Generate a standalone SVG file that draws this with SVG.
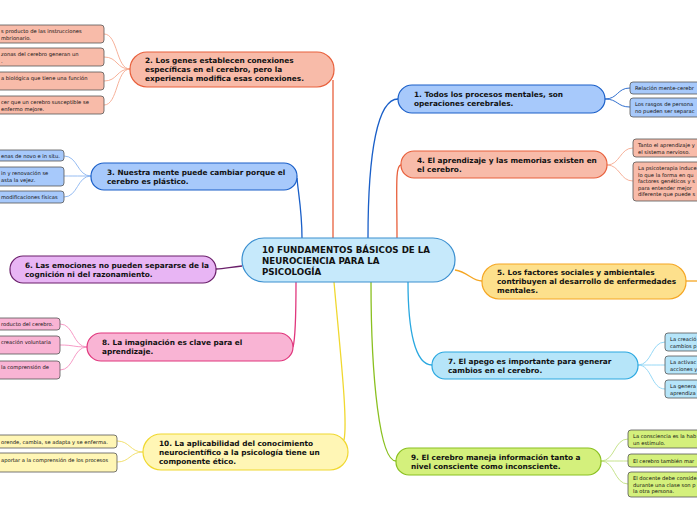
<svg xmlns="http://www.w3.org/2000/svg" width="697" height="520" viewBox="0 0 697 520">
<style>
text{font-family:"DejaVu Sans","Liberation Sans",sans-serif;fill:#111}
.m{font-size:7.35px;font-weight:bold}
.c{font-size:8.7px;font-weight:bold}
.l{font-size:5.2px}
.lf{stroke:#555;stroke-width:0.8}
.cn{fill:none;stroke-width:1.3}
.lc{fill:none;stroke-width:0.9}
.salmon{fill:#f8bba9}
.blue{fill:#a7c9fb}
.pink{fill:#f9b4d4}
.yel{fill:#fff6b5}
.cyan{fill:#b6e5f9}
.lime{fill:#d4f07c}
</style>
<rect width="697" height="520" fill="#fff"/>
<g id="connectors">
<path class="cn" stroke="#1a5fc8" d="M368,238 C368,150 378,99 398,99"/>
<path class="cn" stroke="#e8603c" d="M397,238 C397,190 395,165 401,165"/>
<path class="cn" stroke="#e8603c" d="M333,238 L333,80"/>
<path class="cn" stroke="#1a5fc8" d="M302,238 C302,210 298,192 297,178"/>
<path class="cn" stroke="#6a1f6a" d="M242,266 C230,267 225,269 216,269"/>
<path class="cn" stroke="#e0377d" d="M296,282 C296,320 295,340 293,347"/>
<path class="cn" stroke="#f0d830" d="M334,282 C340,350 348,420 344,440"/>
<path class="cn" stroke="#8ac020" d="M371,282 C371,380 380,461 396,461"/>
<path class="cn" stroke="#2aa8e0" d="M408,282 C408,330 415,365 432,365"/>
<path class="cn" stroke="#f5a623" d="M455,270 C468,272 472,281 482,281"/>
<path class="cn" stroke="#f5a623" d="M686,281 L697,281"/>
<g stroke="#f5a88e">
<path class="lc" d="M130,69 C116,69 118,34 104,34"/>
<path class="lc" d="M130,69 C116,69 118,57 104,57"/>
<path class="lc" d="M130,69 C116,69 118,81 104,81"/>
<path class="lc" d="M130,69 C116,69 118,105 104,105"/>
</g>
<g stroke="#8ab4f0">
<path class="lc" d="M91,176 C77,176 78,156 64,156"/>
<path class="lc" d="M91,176 C77,176 78,176 64,176"/>
<path class="lc" d="M91,176 C77,176 78,197 64,197"/>
</g>
<g stroke="#f590c0">
<path class="lc" d="M87,347 C73,347 74,324 60,324"/>
<path class="lc" d="M87,347 C73,347 74,345 60,345"/>
<path class="lc" d="M87,347 C73,347 74,370 60,370"/>
</g>
<g stroke="#f0dc60">
<path class="lc" d="M143,452 C130,452 130,441 117,441"/>
<path class="lc" d="M143,452 C130,452 130,462 117,462"/>
</g>
<g stroke="#1a5fc8">
<path class="lc" d="M605,99 C618,99 617,88 630,88"/>
<path class="lc" d="M605,99 C618,99 617,107 630,107"/>
</g>
<g stroke="#f5a88e">
<path class="lc" d="M607,165 C620,165 620,148 633,148"/>
<path class="lc" d="M607,165 C620,165 620,181 633,181"/>
</g>
<g stroke="#8ad4f5">
<path class="lc" d="M638,365 C652,365 651,342 665,342"/>
<path class="lc" d="M638,365 C652,365 651,365 665,365"/>
<path class="lc" d="M638,365 C652,365 651,389 665,389"/>
</g>
<g stroke="#c0e080">
<path class="lc" d="M601,461 C615,461 614,439 628,439"/>
<path class="lc" d="M601,461 C615,461 614,461 628,461"/>
<path class="lc" d="M601,461 C615,461 614,484 628,484"/>
</g>
</g>
<g id="center">
<rect x="242" y="238" width="213" height="44" rx="22" fill="#c6e9fb" stroke="#3a8fd0" stroke-width="1.2"/>
<text class="c" x="262" y="253">10 FUNDAMENTOS BÁSICOS DE LA</text>
<text class="c" x="262" y="264">NEUROCIENCIA PARA LA</text>
<text class="c" x="262" y="275">PSICOLOGÍA</text>
</g>
<g id="n2">
<rect x="130" y="52" width="204" height="35" rx="17" class="salmon" stroke="#e8603c" stroke-width="1.2"/>
<text class="m" x="145" y="63">2. Los genes establecen conexiones</text>
<text class="m" x="145" y="72">específicas en el cerebro, pero la</text>
<text class="m" x="145" y="81">experiencia modifica esas conexiones.</text>
</g>
<g id="n2a"><rect x="-5" y="25" width="109" height="18" rx="3" class="salmon lf"/><text class="l" x="1" y="33">s producto de las instrucciones</text><text class="l" x="1" y="39.5">mbrionario.</text></g>
<g id="n2b"><rect x="-5" y="48" width="109" height="18" rx="3" class="salmon lf"/><text class="l" x="1" y="56">zonas del cerebro generan un</text><text class="l" x="1" y="62.5">.</text></g>
<g id="n2c"><rect x="-5" y="72" width="109" height="18" rx="3" class="salmon lf"/><text class="l" x="1" y="80">a biológica que tiene una función</text></g>
<g id="n2d"><rect x="-5" y="96" width="109" height="18" rx="3" class="salmon lf"/><text class="l" x="1" y="104">cer que un cerebro susceptible se</text><text class="l" x="1" y="110.5">enfermo mejore.</text></g>
<g id="n3">
<rect x="91" y="163" width="206" height="27" rx="13" class="blue" stroke="#1a5fc8" stroke-width="1.2"/>
<text class="m" x="107" y="174.5">3. Nuestra mente puede cambiar porque el</text>
<text class="m" x="107" y="183.5">cerebro es plástico.</text>
</g>
<g id="n3a"><rect x="-5" y="150" width="69" height="11" rx="3" class="blue lf"/><text class="l" x="1" y="157.5">enas de novo e in situ.</text></g>
<g id="n3b"><rect x="-5" y="167" width="69" height="19" rx="3" class="blue lf"/><text class="l" x="1" y="175">in y renovación se</text><text class="l" x="1" y="181.5">asta la vejez.</text></g>
<g id="n3c"><rect x="-5" y="191" width="69" height="12" rx="3" class="blue lf"/><text class="l" x="1" y="199">modificaciones físicas</text></g>
<g id="n6">
<rect x="10" y="256" width="206" height="27" rx="13" fill="#e8b5f4" stroke="#6a1f6a" stroke-width="1.2"/>
<text class="m" x="25" y="267.5">6. Las emociones no pueden separarse de la</text>
<text class="m" x="25" y="276.5">cognición ni del razonamiento.</text>
</g>
<g id="n8">
<rect x="87" y="333" width="206" height="28" rx="14" class="pink" stroke="#e0377d" stroke-width="1.2"/>
<text class="m" x="102" y="345">8. La imaginación es clave para el</text>
<text class="m" x="102" y="354">aprendizaje.</text>
</g>
<g id="n8a"><rect x="-5" y="318" width="65" height="12" rx="3" class="pink lf"/><text class="l" x="1" y="326">roducto del cerebro.</text></g>
<g id="n8b"><rect x="-5" y="336" width="65" height="18" rx="3" class="pink lf"/><text class="l" x="1" y="344">creación voluntaria</text></g>
<g id="n8c"><rect x="-5" y="361" width="65" height="18" rx="3" class="pink lf"/><text class="l" x="1" y="369">la comprensión de</text></g>
<g id="n10">
<rect x="143" y="434" width="205" height="36" rx="18" class="yel" stroke="#f0d830" stroke-width="1.2"/>
<text class="m" x="159" y="445.5">10. La aplicabilidad del conocimiento</text>
<text class="m" x="159" y="454.5">neurocientífico a la psicología tiene un</text>
<text class="m" x="159" y="463.5">componente ético.</text>
</g>
<g id="n10a"><rect x="-5" y="435" width="122" height="13" rx="3" class="yel lf"/><text class="l" x="1" y="443.5">orende, cambia, se adapta y se enferma.</text></g>
<g id="n10b"><rect x="-5" y="453" width="122" height="19" rx="3" class="yel lf"/><text class="l" x="1" y="462">aportar a la comprensión de los procesos</text></g>
<g id="n1">
<rect x="398" y="85" width="207" height="28" rx="14" class="blue" stroke="#1a5fc8" stroke-width="1.2"/>
<text class="m" x="414" y="97">1. Todos los procesos mentales, son</text>
<text class="m" x="414" y="106">operaciones cerebrales.</text>
</g>
<g id="n1a"><rect x="630" y="82" width="75" height="12" rx="3" class="blue lf"/><text class="l" x="635" y="90">Relación mente-cerebr</text></g>
<g id="n1b"><rect x="630" y="98" width="75" height="19" rx="3" class="blue lf"/><text class="l" x="635" y="106">Los rasgos de persona</text><text class="l" x="635" y="112.5">no pueden ser separac</text></g>
<g id="n4">
<rect x="401" y="151" width="206" height="27" rx="13" class="salmon" stroke="#e8603c" stroke-width="1.2"/>
<text class="m" x="417" y="162.5">4. El aprendizaje y las memorias existen en</text>
<text class="m" x="417" y="171.5">el cerebro.</text>
</g>
<g id="n4a"><rect x="633" y="139" width="72" height="18" rx="3" class="salmon lf"/><text class="l" x="638" y="147">Tanto el aprendizaje y</text><text class="l" x="638" y="153.5">el sistema nervioso.</text></g>
<g id="n4b"><rect x="633" y="162" width="72" height="39" rx="3" class="salmon lf"/><text class="l" x="638" y="170">La psicoterapia induce</text><text class="l" x="638" y="176.5">lo que la forma en qu</text><text class="l" x="638" y="183">factores genéticos y s</text><text class="l" x="638" y="189.5">para entender mejor</text><text class="l" x="638" y="196">diferente que puede s</text></g>
<g id="n5">
<rect x="482" y="264" width="204" height="35" rx="17" fill="#fde08c" stroke="#f5a623" stroke-width="1.2"/>
<text class="m" x="497" y="274.5">5. Los factores sociales y ambientales</text>
<text class="m" x="497" y="283.5">contribuyen al desarrollo de enfermedades</text>
<text class="m" x="497" y="292.5">mentales.</text>
</g>
<g id="n7">
<rect x="432" y="352" width="206" height="27" rx="13" class="cyan" stroke="#2aa8e0" stroke-width="1.2"/>
<text class="m" x="448" y="363.5">7. El apego es importante para generar</text>
<text class="m" x="448" y="372.5">cambios en el cerebro.</text>
</g>
<g id="n7a"><rect x="665" y="333" width="40" height="18" rx="3" class="cyan lf"/><text class="l" x="670" y="341">La creació</text><text class="l" x="670" y="347.5">cambios p</text></g>
<g id="n7b"><rect x="665" y="356" width="40" height="18" rx="3" class="cyan lf"/><text class="l" x="670" y="364">La activac</text><text class="l" x="670" y="370.5">acciones y</text></g>
<g id="n7c"><rect x="665" y="380" width="40" height="18" rx="3" class="cyan lf"/><text class="l" x="670" y="388">La genera</text><text class="l" x="670" y="394.5">aprendiza</text></g>
<g id="n9">
<rect x="396" y="448" width="205" height="27" rx="13" class="lime" stroke="#8ac020" stroke-width="1.2"/>
<text class="m" x="411" y="459.5">9. El cerebro maneja información  tanto a</text>
<text class="m" x="411" y="468.5">nivel consciente como inconsciente.</text>
</g>
<g id="n9a"><rect x="628" y="430" width="77" height="18" rx="3" class="lime lf"/><text class="l" x="633" y="438">La consciencia es la hab</text><text class="l" x="633" y="444.5">un estímulo.</text></g>
<g id="n9b"><rect x="628" y="454" width="77" height="13" rx="3" class="lime lf"/><text class="l" x="633" y="462.5">El cerebro también mar</text></g>
<g id="n9c"><rect x="628" y="472" width="77" height="25" rx="3" class="lime lf"/><text class="l" x="633" y="480">El docente debe conside</text><text class="l" x="633" y="486.5">durante una clase son p</text><text class="l" x="633" y="493">la otra persona.</text></g>
</svg>
